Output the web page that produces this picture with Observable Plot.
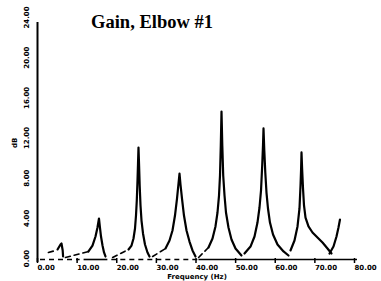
<!DOCTYPE html>
<html>
<head>
<meta charset="utf-8">
<script src="https://cdn.jsdelivr.net/npm/d3@7"></script>
<script src="https://cdn.jsdelivr.net/npm/@observablehq/plot@0.6"></script>
<style>
  html, body { margin: 0; padding: 0; background: #fff; }
  #chart svg { display: block; }
</style>
</head>
<body>
<div id="chart"></div>
<script>
const title = "Gain, Elbow #1";
const yLabel = "dB";
const xLabel = "Frequency (Hz)";
const xTicks = [0, 10, 20, 30, 40, 50, 60, 70, 80];
const yTicks = [0, 4, 8, 12, 16, 20, 24];

// solid resonance peaks, [x, y]
const peak1 = [[4.3,0.9],[5.05,1.4],[5.3,1.5],[5.6,0.8],[5.7,0.2]];
const peak2 = [[12.11,0.70],[13.12,1.29],[13.88,2.19],[14.38,3.09],[14.76,3.98],[14.97,3.19],[15.27,2.19],[15.65,1.29],[16.03,0.60],[16.40,0.20]];
const peak3 = [[22.21,0.90],[22.97,1.29],[23.47,1.99],[23.85,2.99],[24.10,4.28],[24.30,5.78],[24.48,7.77],[24.61,9.46],[24.73,11.05],[24.88,9.26],[25.03,7.27],[25.24,5.28],[25.49,3.78],[25.87,2.49],[26.37,1.39],[27.00,0.60],[27.51,0.20]];
const peak4 = [[31.55,1.00],[32.56,1.79],[33.31,2.79],[33.94,4.28],[34.45,5.97],[34.83,7.47],[35.08,8.46],[35.33,7.37],[35.71,5.97],[36.21,4.28],[36.85,2.79],[37.60,1.69],[38.36,0.80],[39.12,0.20]];
const peak5 = [[42.40,1.10],[43.41,1.99],[44.16,3.19],[44.67,4.58],[45.05,6.27],[45.30,8.27],[45.50,11.25],[45.68,14.64],[45.88,11.25],[46.11,8.27],[46.44,6.27],[46.81,4.58],[47.44,3.09],[48.20,1.89],[49.21,1.00],[50.72,0.30]];
const peak6 = [[51.48,0.50],[53.00,1.19],[54.01,2.19],[54.76,3.58],[55.27,5.08],[55.65,6.77],[55.95,9.26],[56.15,11.25],[56.28,12.95],[56.48,10.75],[56.73,8.56],[57.03,6.57],[57.41,4.98],[57.91,3.58],[58.68,2.39],[59.81,1.39],[61.33,0.70],[62.59,0.30]];
const peak7 = [[63.09,0.80],[64.10,1.79],[64.86,3.19],[65.36,4.98],[65.62,7.27],[65.77,8.96],[65.87,10.56],[66.02,8.96],[66.25,6.97],[66.50,5.28],[66.88,4.08],[67.63,3.19],[68.64,2.59],[69.90,2.09],[71.17,1.59],[72.43,1.00],[73.44,0.50]];
const peak8 = [[72.93,0.50],[73.94,1.19],[74.70,2.19],[75.20,3.09],[75.58,3.88]];

// dashed lead-in segments
const lead1 = [[2.0,0.6],[3.8,0.8]];
const lead2 = [[6.3,0.1],[12.1,0.7]];
const lead3 = [[18.2,0.1],[22.2,0.9]];
const lead4 = [[28.3,0.2],[31.6,1.0]];
const lead5 = [[39.9,0.1],[42.4,1.1]];

// baseline pieces [x1, x2]
const baseDashed = [[0,10],[18,40]];
const baseSolid = [[11,17],[40,80]];

const toRows = (arrs) => arrs.flatMap((a, i) => a.map(([x, y]) => ({id: i, x, y})));
const solidRows = toRows([peak1, peak2, peak3, peak4, peak5, peak6, peak7, peak8]);
const leadRows = toRows([lead1, lead2, lead3, lead4, lead5]);

const font = "DejaVu Sans, sans-serif";

const chart = Plot.plot({
  width: 381,
  height: 281,
  marginLeft: 40,
  marginRight: 24,
  marginTop: 17,
  marginBottom: 23,
  style: {background: "#fff", color: "#000", fontFamily: font},
  x: {domain: [0, 80]},
  y: {domain: [0, 24]},
  marks: [
    Plot.ruleX([0], {dx: -3, insetTop: 5, insetBottom: -4, strokeWidth: 2, stroke: "#000"}),
    Plot.ruleY(baseDashed, {x1: d => d[0], x2: d => d[1], y: 0, stroke: "#000", strokeWidth: 1.6, strokeDasharray: "5,4", dy: 1}),
    Plot.ruleY(baseSolid, {x1: d => d[0], x2: d => d[1], y: 0, stroke: "#000", strokeWidth: 1.6, dy: 1}),
    Plot.line(leadRows, {x: "x", y: "y", z: "id", stroke: "#000", strokeWidth: 1.6, strokeDasharray: "5,4"}),
    Plot.line(solidRows, {x: "x", y: "y", z: "id", stroke: "#000", strokeWidth: 2.2, curve: "linear", strokeLinejoin: "round"}),
    Plot.axisX({ticks: xTicks, tickFormat: d => d.toFixed(2), tickSize: 5, tickPadding: 2, fontSize: 7, fontWeight: "bold", textAnchor: "start", dx: -3, label: null, strokeWidth: 1.5}),
    Plot.axisY({ticks: yTicks, tickFormat: d => d.toFixed(2), tickSize: 0, tickPadding: 12, tickRotate: -90, fontSize: 7, fontWeight: "bold", label: null}),
    Plot.text([yLabel], {frameAnchor: "left", dx: -26, dy: 10, rotate: -90, fontSize: 7, fontWeight: "bold", text: d => d}),
    Plot.text([xLabel], {frameAnchor: "bottom", dx: -2, dy: 20, fontSize: 7, fontWeight: "bold", text: d => d}),
    Plot.text([title], {frameAnchor: "top", dx: -47, dy: -3, fontSize: 18.5, fontWeight: "bold", fontFamily: "Liberation Serif, serif", letterSpacing: "2.8px", text: d => d})
  ]
});
document.getElementById("chart").appendChild(chart);
</script>
</body>
</html>
